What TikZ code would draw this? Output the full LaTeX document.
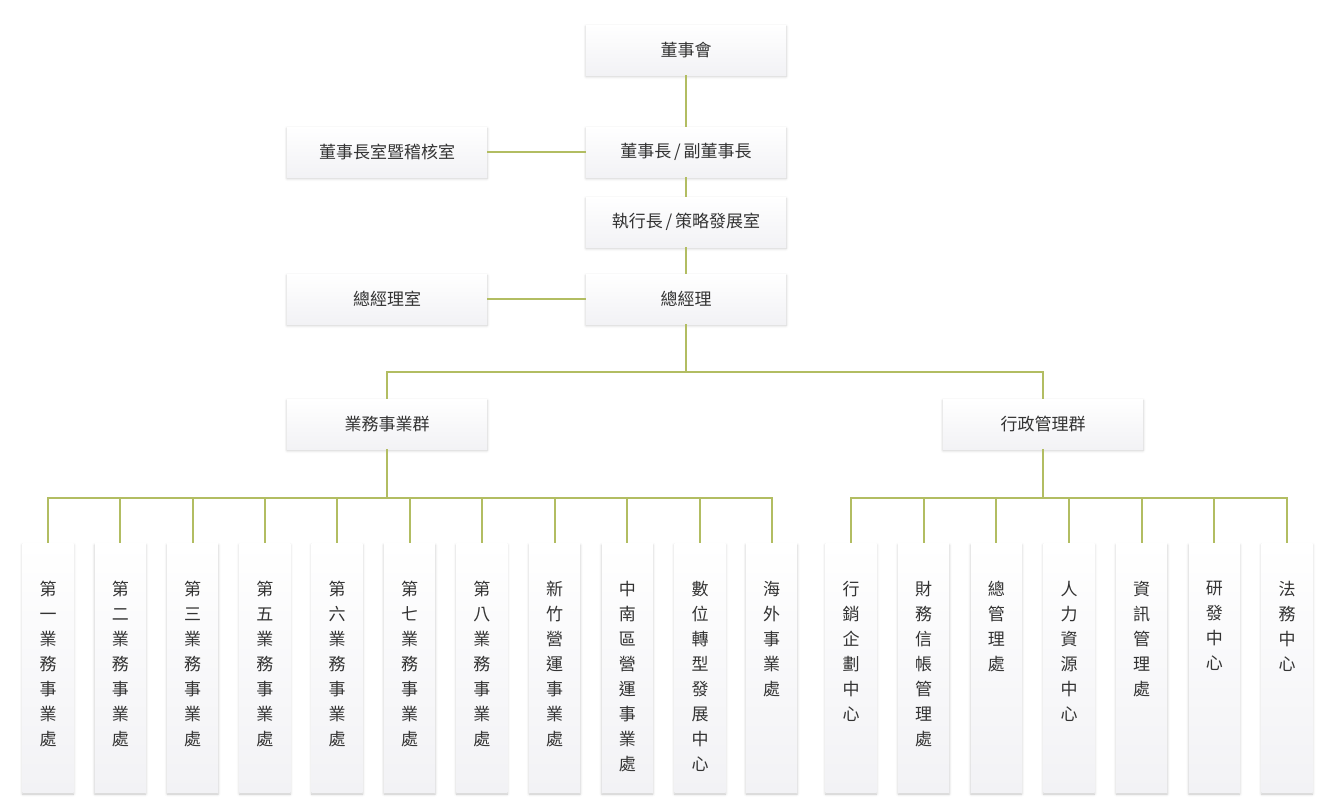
\documentclass[tikz,border=0pt]{standalone}
\usepackage{fontspec}
\setmainfont{Noto Sans CJK TC}
\usetikzlibrary{shadows.blur}
\definecolor{linec}{RGB}{178,189,98}
\definecolor{txt}{RGB}{51,51,51}
\definecolor{boxbot}{RGB}{242,242,245}
\tikzset{
 box/.style={shading=axis, top color=white, bottom color=boxbot, draw=none,
   blur shadow={shadow xshift=0pt, shadow yshift=-1.5pt, shadow blur radius=2.5pt, shadow opacity=22},
   inner sep=0pt, font=\fontsize{17}{20}\selectfont, text=txt},
 hbox/.style={box, minimum width=200pt, minimum height=50pt},
 vbox/.style={box, minimum width=51pt, minimum height=249pt},
 vtext/.style={anchor=north, align=center, font=\fontsize{17}{25}\selectfont, text=txt, inner sep=0pt},
 conn/.style={draw=linec, line width=2pt},
}
\begin{document}
\begin{tikzpicture}[x=1pt,y=-1pt]
\useasboundingbox (0,0) rectangle (1344,811);
% top chain
\node[hbox] (board) at (686,50) {董事會};
\node[hbox] (chair) at (686,152) {董事長\,/\,副董事長};
\node[hbox] (ceo) at (686,222) {執行長\,/\,策略發展室};
\node[hbox] (gm) at (686,299) {總經理};
\node[hbox] (chairoff) at (387,152) {董事長室暨稽核室};
\node[hbox] (gmoff) at (387,299) {總經理室};
\node[hbox] (biz) at (387,424) {業務事業群};
\node[hbox] (adm) at (1043,424) {行政管理群};
\coordinate (j1) at (686,372);
\coordinate (j2) at (0,498);
% connectors top
\draw[conn] (board.south) -- (chair.north);
\draw[conn] (chair.south) -- (ceo.north);
\draw[conn] (ceo.south) -- (gm.north);
\draw[conn] (chairoff.east) -- (chair.west);
\draw[conn] (gmoff.east) -- (gm.west);
\draw[conn] (gm.south) -- (gm.south |- j1) -| (biz.north);
\draw[conn] (gm.south |- j1) -| (adm.north);
% left group
\foreach \n/\x/\t in {
 l1/48/{第\\一\\業\\務\\事\\業\\處},
 l2/120.3/{第\\二\\業\\務\\事\\業\\處},
 l3/192.6/{第\\三\\業\\務\\事\\業\\處},
 l4/264.9/{第\\五\\業\\務\\事\\業\\處},
 l5/337.2/{第\\六\\業\\務\\事\\業\\處},
 l6/409.5/{第\\七\\業\\務\\事\\業\\處},
 l7/481.8/{第\\八\\業\\務\\事\\業\\處},
 l8/554.6/{新\\竹\\營\\運\\事\\業\\處},
 l9/627.4/{中\\南\\區\\營\\運\\事\\業\\處},
 l10/700/{數\\位\\轉\\型\\發\\展\\中\\心},
 l11/771.5/{海\\外\\事\\業\\處}}{
  \node[vbox] (\n) at (\x,668) {};
  \node[vtext] (\n t) at ([yshift=-38pt]\n.north) {\t};
  \draw[conn] (biz.south) -- (biz.south |- j2) -| (\n.north);
}
% right group
\foreach \n/\x/\t in {
 r1/851/{行\\銷\\企\\劃\\中\\心},
 r2/923.7/{財\\務\\信\\帳\\管\\理\\處},
 r3/996.3/{總\\管\\理\\處},
 r4/1069/{人\\力\\資\\源\\中\\心},
 r5/1141.7/{資\\訊\\管\\理\\處},
 r6/1214.3/{研\\發\\中\\心},
 r7/1287/{法\\務\\中\\心}}{
  \node[vbox] (\n) at (\x,668) {};
  \node[vtext] (\n t) at ([yshift=-38pt]\n.north) {\t};
  \draw[conn] (adm.south) -- (adm.south |- j2) -| (\n.north);
}
\end{tikzpicture}
\end{document}
